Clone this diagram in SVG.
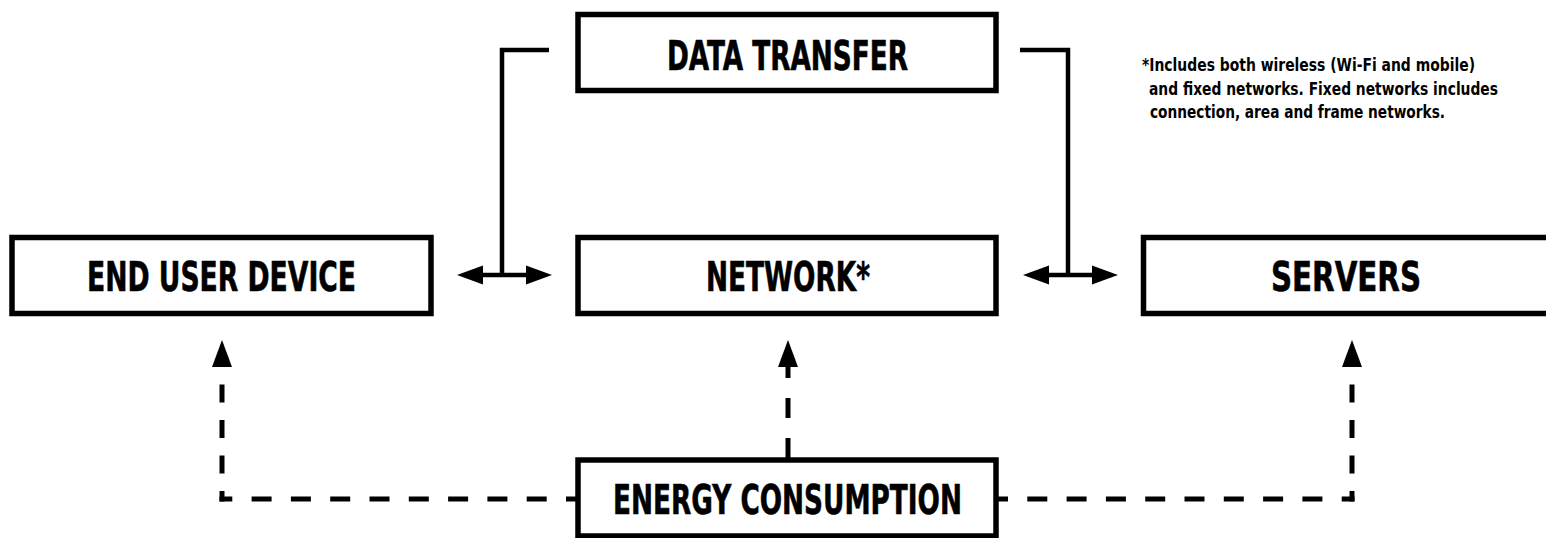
<svg xmlns="http://www.w3.org/2000/svg" width="1546" height="538" viewBox="0 0 1546 538">
  <style>
    .box { fill: #ffffff; stroke: #000000; stroke-width: 5.5; }
    .label { font-family: "Liberation Sans Narrow", "DejaVu Sans Condensed", "Liberation Sans", sans-serif; font-weight: bold; font-size: 41px; fill: #000000; stroke: #000000; stroke-width: 0.6; text-anchor: middle; }
    .note { font-family: "Liberation Sans Narrow", "DejaVu Sans Condensed", "Liberation Sans", sans-serif; font-weight: bold; font-size: 17px; fill: #000000; }
    .solid { fill: none; stroke: #000000; stroke-width: 4.5; }
    .dash { fill: none; stroke: #000000; stroke-width: 5; }
    .head { fill: #000000; stroke: none; }
  </style>
  <defs>
    <path id="upHead" d="M0,-27 L10,0 L-10,0 Z"/>
    <path id="sideHead" d="M0,0 L26,-9.5 L26,9.5 Z"/>
  </defs>
  <rect width="1546" height="538" fill="#ffffff"/>

  <g id="connectors">
    <!-- data transfer brackets -->
    <path class="solid" d="M549,50 H502 V275"/>
    <path class="solid" d="M1020,50 H1068 V275"/>
    <!-- double arrows -->
    <path class="solid" d="M470,275 H539"/>
    <use href="#sideHead" class="head" transform="translate(457,275)"/>
    <use href="#sideHead" class="head" transform="translate(552,275) scale(-1,1)"/>
    <path class="solid" d="M1036,275 H1105"/>
    <use href="#sideHead" class="head" transform="translate(1023,275)"/>
    <use href="#sideHead" class="head" transform="translate(1118,275) scale(-1,1)"/>
    <!-- energy dashed connectors -->
    <path class="dash" d="M580,499 H219.5" stroke-dasharray="20 19.3" stroke-dashoffset="6"/>
    <path class="dash" d="M222,501.5 V367" stroke-dasharray="18 17.5" stroke-dashoffset="7.5"/>
    <use href="#upHead" class="head" transform="translate(222,367)"/>
    <path class="dash" d="M995,499 H1354.5" stroke-dasharray="20 19.3" stroke-dashoffset="7"/>
    <path class="dash" d="M1352,501.5 V367" stroke-dasharray="18 17.5" stroke-dashoffset="7.5"/>
    <use href="#upHead" class="head" transform="translate(1352,367)"/>
    <path class="dash" d="M788,458 V366" stroke-dasharray="20 20"/>
    <use href="#upHead" class="head" transform="translate(788,367)"/>
  </g>

  <g id="data-transfer">
    <rect class="box" x="578" y="14.5" width="418" height="76"/>
    <text class="label" x="787.5" y="70" textLength="241" lengthAdjust="spacingAndGlyphs">DATA TRANSFER</text>
  </g>
  <g id="end-user-device">
    <rect class="box" x="12" y="237.5" width="419" height="76"/>
    <text class="label" x="221.5" y="291" textLength="269" lengthAdjust="spacingAndGlyphs">END USER DEVICE</text>
  </g>
  <g id="network">
    <rect class="box" x="578" y="237.5" width="418" height="76"/>
    <text class="label" x="788" y="291" textLength="164" lengthAdjust="spacingAndGlyphs">NETWORK*</text>
  </g>
  <g id="servers">
    <rect class="box" x="1143.5" y="237.5" width="420" height="76"/>
    <text class="label" x="1346" y="291" textLength="150" lengthAdjust="spacingAndGlyphs">SERVERS</text>
  </g>
  <g id="energy-consumption">
    <rect class="box" x="578" y="460" width="418" height="76"/>
    <text class="label" x="787.5" y="514" textLength="349" lengthAdjust="spacingAndGlyphs">ENERGY CONSUMPTION</text>
  </g>
  <g id="note">
    <text class="note" x="1142" y="71" textLength="333" lengthAdjust="spacingAndGlyphs">*Includes both wireless (Wi-Fi and mobile)</text>
    <text class="note" x="1149" y="95" textLength="349" lengthAdjust="spacingAndGlyphs">and fixed networks. Fixed networks includes</text>
    <text class="note" x="1150" y="118" textLength="295" lengthAdjust="spacingAndGlyphs">connection, area and frame networks.</text>
  </g>
</svg>
